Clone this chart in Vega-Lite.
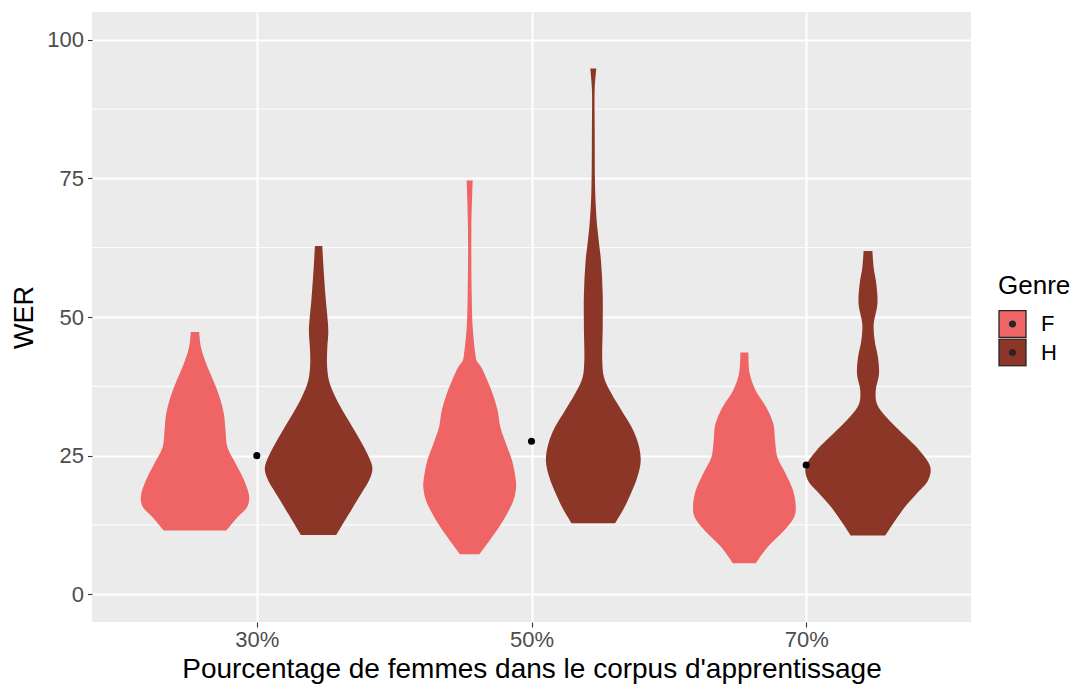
{
  "$schema": "https://vega.github.io/schema/vega-lite/v6.json",
  "width": 879,
  "height": 610,
  "autosize": {"type": "none"},
  "padding": {"left": 92, "top": 12, "right": 109, "bottom": 62},
  "background": "white",
  "config": {
    "font": "Liberation Sans",
    "view": {"fill": "#EBEBEB", "stroke": null},
    "area": {"interpolate": "catmull-rom", "orient": "horizontal"}
  },
  "datasets": {
    "grille": [{"wer": 12.5}, {"wer": 37.5}, {"wer": 62.5}, {"wer": 87.5}],
    "moyennes": [
      {"pct": "30%", "wer": 25.0},
      {"pct": "50%", "wer": 27.6},
      {"pct": "70%", "wer": 23.3}
    ],
    "violons": [
      {"pct": "30%", "genre": "F", "wer": 47.3, "densite": 0.0042},
      {"pct": "30%", "genre": "F", "wer": 44.5, "densite": 0.0060},
      {"pct": "30%", "genre": "F", "wer": 41.5, "densite": 0.0114},
      {"pct": "30%", "genre": "F", "wer": 38.5, "densite": 0.0184},
      {"pct": "30%", "genre": "F", "wer": 35.5, "densite": 0.0247},
      {"pct": "30%", "genre": "F", "wer": 32.5, "densite": 0.0289},
      {"pct": "30%", "genre": "F", "wer": 29.5, "densite": 0.0305},
      {"pct": "30%", "genre": "F", "wer": 26.5, "densite": 0.0324},
      {"pct": "30%", "genre": "F", "wer": 23.5, "densite": 0.0409},
      {"pct": "30%", "genre": "F", "wer": 20.5, "densite": 0.0492},
      {"pct": "30%", "genre": "F", "wer": 17.5, "densite": 0.0542},
      {"pct": "30%", "genre": "F", "wer": 15.7, "densite": 0.0520},
      {"pct": "30%", "genre": "F", "wer": 13.9, "densite": 0.0425},
      {"pct": "30%", "genre": "F", "wer": 11.5, "densite": 0.0312},

      {"pct": "30%", "genre": "H", "wer": 62.8, "densite": 0.0037},
      {"pct": "30%", "genre": "H", "wer": 59.5, "densite": 0.0047},
      {"pct": "30%", "genre": "H", "wer": 53.5, "densite": 0.0070},
      {"pct": "30%", "genre": "H", "wer": 47.5, "densite": 0.0097},
      {"pct": "30%", "genre": "H", "wer": 44.5, "densite": 0.0087},
      {"pct": "30%", "genre": "H", "wer": 41.5, "densite": 0.0084},
      {"pct": "30%", "genre": "H", "wer": 38.5, "densite": 0.0104},
      {"pct": "30%", "genre": "H", "wer": 35.5, "densite": 0.0170},
      {"pct": "30%", "genre": "H", "wer": 32.5, "densite": 0.0260},
      {"pct": "30%", "genre": "H", "wer": 29.5, "densite": 0.0360},
      {"pct": "30%", "genre": "H", "wer": 26.5, "densite": 0.0454},
      {"pct": "30%", "genre": "H", "wer": 23.5, "densite": 0.0530},
      {"pct": "30%", "genre": "H", "wer": 22.3, "densite": 0.0537},
      {"pct": "30%", "genre": "H", "wer": 20.5, "densite": 0.0504},
      {"pct": "30%", "genre": "H", "wer": 17.5, "densite": 0.0404},
      {"pct": "30%", "genre": "H", "wer": 14.5, "densite": 0.0304},
      {"pct": "30%", "genre": "H", "wer": 10.7, "densite": 0.0177},

      {"pct": "50%", "genre": "F", "wer": 74.6, "densite": 0.0030},
      {"pct": "50%", "genre": "F", "wer": 66.1, "densite": 0.0017},
      {"pct": "50%", "genre": "F", "wer": 54.1, "densite": 0.0020},
      {"pct": "50%", "genre": "F", "wer": 48.1, "densite": 0.0030},
      {"pct": "50%", "genre": "F", "wer": 43.3, "densite": 0.0057},
      {"pct": "50%", "genre": "F", "wer": 42.1, "densite": 0.0070},
      {"pct": "50%", "genre": "F", "wer": 41.0, "densite": 0.0114},
      {"pct": "50%", "genre": "F", "wer": 39.1, "densite": 0.0164},
      {"pct": "50%", "genre": "F", "wer": 36.1, "densite": 0.0230},
      {"pct": "50%", "genre": "F", "wer": 33.1, "densite": 0.0280},
      {"pct": "50%", "genre": "F", "wer": 30.1, "densite": 0.0307},
      {"pct": "50%", "genre": "F", "wer": 27.1, "densite": 0.0364},
      {"pct": "50%", "genre": "F", "wer": 24.1, "densite": 0.0424},
      {"pct": "50%", "genre": "F", "wer": 21.1, "densite": 0.0457},
      {"pct": "50%", "genre": "F", "wer": 19.3, "densite": 0.0464},
      {"pct": "50%", "genre": "F", "wer": 16.9, "densite": 0.0437},
      {"pct": "50%", "genre": "F", "wer": 13.9, "densite": 0.0354},
      {"pct": "50%", "genre": "F", "wer": 10.9, "densite": 0.0247},
      {"pct": "50%", "genre": "F", "wer": 7.2, "densite": 0.0097},

      {"pct": "50%", "genre": "H", "wer": 94.8, "densite": 0.0030},
      {"pct": "50%", "genre": "H", "wer": 91.2, "densite": 0.0014},
      {"pct": "50%", "genre": "H", "wer": 84.0, "densite": 0.0014},
      {"pct": "50%", "genre": "H", "wer": 72.1, "densite": 0.0020},
      {"pct": "50%", "genre": "H", "wer": 66.1, "densite": 0.0040},
      {"pct": "50%", "genre": "H", "wer": 60.1, "densite": 0.0077},
      {"pct": "50%", "genre": "H", "wer": 54.1, "densite": 0.0094},
      {"pct": "50%", "genre": "H", "wer": 48.1, "densite": 0.0094},
      {"pct": "50%", "genre": "H", "wer": 42.1, "densite": 0.0090},
      {"pct": "50%", "genre": "H", "wer": 39.1, "densite": 0.0107},
      {"pct": "50%", "genre": "H", "wer": 36.1, "densite": 0.0184},
      {"pct": "50%", "genre": "H", "wer": 33.1, "densite": 0.0284},
      {"pct": "50%", "genre": "H", "wer": 30.1, "densite": 0.0384},
      {"pct": "50%", "genre": "H", "wer": 27.1, "densite": 0.0450},
      {"pct": "50%", "genre": "H", "wer": 24.1, "densite": 0.0474},
      {"pct": "50%", "genre": "H", "wer": 21.1, "densite": 0.0440},
      {"pct": "50%", "genre": "H", "wer": 18.1, "densite": 0.0374},
      {"pct": "50%", "genre": "H", "wer": 15.1, "densite": 0.0294},
      {"pct": "50%", "genre": "H", "wer": 12.8, "densite": 0.0217},

      {"pct": "70%", "genre": "F", "wer": 43.6, "densite": 0.0040},
      {"pct": "70%", "genre": "F", "wer": 39.7, "densite": 0.0054},
      {"pct": "70%", "genre": "F", "wer": 36.7, "densite": 0.0114},
      {"pct": "70%", "genre": "F", "wer": 33.7, "densite": 0.0220},
      {"pct": "70%", "genre": "F", "wer": 30.7, "densite": 0.0290},
      {"pct": "70%", "genre": "F", "wer": 27.7, "densite": 0.0307},
      {"pct": "70%", "genre": "F", "wer": 24.7, "densite": 0.0330},
      {"pct": "70%", "genre": "F", "wer": 21.7, "densite": 0.0414},
      {"pct": "70%", "genre": "F", "wer": 18.7, "densite": 0.0487},
      {"pct": "70%", "genre": "F", "wer": 15.7, "densite": 0.0514},
      {"pct": "70%", "genre": "F", "wer": 13.9, "densite": 0.0497},
      {"pct": "70%", "genre": "F", "wer": 11.5, "densite": 0.0397},
      {"pct": "70%", "genre": "F", "wer": 8.5, "densite": 0.0230},
      {"pct": "70%", "genre": "F", "wer": 5.6, "densite": 0.0114},

      {"pct": "70%", "genre": "H", "wer": 61.9, "densite": 0.0044},
      {"pct": "70%", "genre": "H", "wer": 58.9, "densite": 0.0057},
      {"pct": "70%", "genre": "H", "wer": 55.9, "densite": 0.0084},
      {"pct": "70%", "genre": "H", "wer": 52.3, "densite": 0.0094},
      {"pct": "70%", "genre": "H", "wer": 48.7, "densite": 0.0057},
      {"pct": "70%", "genre": "H", "wer": 45.7, "densite": 0.0067},
      {"pct": "70%", "genre": "H", "wer": 42.7, "densite": 0.0100},
      {"pct": "70%", "genre": "H", "wer": 39.7, "densite": 0.0110},
      {"pct": "70%", "genre": "H", "wer": 36.7, "densite": 0.0077},
      {"pct": "70%", "genre": "H", "wer": 34.3, "densite": 0.0090},
      {"pct": "70%", "genre": "H", "wer": 31.9, "densite": 0.0184},
      {"pct": "70%", "genre": "H", "wer": 28.9, "densite": 0.0350},
      {"pct": "70%", "genre": "H", "wer": 25.9, "densite": 0.0517},
      {"pct": "70%", "genre": "H", "wer": 22.9, "densite": 0.0624},
      {"pct": "70%", "genre": "H", "wer": 20.5, "densite": 0.0600},
      {"pct": "70%", "genre": "H", "wer": 18.1, "densite": 0.0484},
      {"pct": "70%", "genre": "H", "wer": 15.7, "densite": 0.0367},
      {"pct": "70%", "genre": "H", "wer": 12.7, "densite": 0.0250},
      {"pct": "70%", "genre": "H", "wer": 10.6, "densite": 0.0174}
    ]
  },
  "resolve": {"scale": {"x": "independent"}, "axis": {"x": "independent"}},
  "layer": [
    {
      "data": {"name": "grille"},
      "mark": {"type": "rule", "color": "white", "strokeWidth": 1},
      "encoding": {
        "y": {"field": "wer", "type": "quantitative", "scale": {"domain": [-5, 105], "nice": false, "zero": false}}
      }
    },
    {
      "data": {"name": "violons"},
      "transform": [{"filter": "datum.pct == '30%' && datum.genre == 'F'"}],
      "mark": {"type": "area"},
      "encoding": {
        "y": {"field": "wer", "type": "quantitative"},
        "x": {"field": "densite", "type": "quantitative", "stack": "center", "impute": null, "axis": null, "scale": {"domain": [-0.024405, 0.415095], "nice": false, "zero": false}},
        "color": {"field": "genre", "type": "nominal", "scale": {"domain": ["F", "H"], "range": ["#EF6464", "#8B3627"]},
          "legend": {"title": "Genre", "orient": "none", "direction": "vertical", "legendX": 906, "legendY": 261, "padding": 0,
            "titleFontSize": 26, "titleFontWeight": "normal", "titleColor": "black", "titlePadding": 11,
            "labelFontSize": 22, "labelColor": "black", "labelOffset": 14, "rowPadding": 0.5, "clipHeight": 28,
            "symbolType": "M-1,-1H1V1H-1Z M0.22,0A0.22,0.22,0,1,1,-0.22,0A0.22,0.22,0,1,1,0.22,0Z M0.135,0A0.135,0.135,0,1,1,-0.135,0A0.135,0.135,0,1,1,0.135,0Z M0.05,0A0.05,0.05,0,1,1,-0.05,0A0.05,0.05,0,1,1,0.05,0Z",
            "symbolSize": 729, "symbolStrokeColor": "#262626", "symbolStrokeWidth": 1.3,
            "encode": {"symbols": {"update": {"stroke": {"value": "#262626"}, "strokeWidth": {"value": 1.3}}}}}}
      }
    },
    {
      "data": {"name": "violons"},
      "transform": [{"filter": "datum.pct == '30%' && datum.genre == 'H'"}],
      "mark": {"type": "area"},
      "encoding": {
        "y": {"field": "wer", "type": "quantitative"},
        "x": {"field": "densite", "type": "quantitative", "stack": "center", "impute": null, "axis": null, "scale": {"domain": [-0.086455, 0.353045], "nice": false, "zero": false}},
        "color": {"field": "genre", "type": "nominal"}
      }
    },
    {
      "data": {"name": "violons"},
      "transform": [{"filter": "datum.pct == '50%' && datum.genre == 'F'"}],
      "mark": {"type": "area"},
      "encoding": {
        "y": {"field": "wer", "type": "quantitative"},
        "x": {"field": "densite", "type": "quantitative", "stack": "center", "impute": null, "axis": null, "scale": {"domain": [-0.16565, 0.27385], "nice": false, "zero": false}},
        "color": {"field": "genre", "type": "nominal"}
      }
    },
    {
      "data": {"name": "violons"},
      "transform": [{"filter": "datum.pct == '50%' && datum.genre == 'H'"}],
      "mark": {"type": "area"},
      "encoding": {
        "y": {"field": "wer", "type": "quantitative"},
        "x": {"field": "densite", "type": "quantitative", "stack": "center", "impute": null, "axis": null, "scale": {"domain": [-0.22695, 0.21255], "nice": false, "zero": false}},
        "color": {"field": "genre", "type": "nominal"}
      }
    },
    {
      "data": {"name": "violons"},
      "transform": [{"filter": "datum.pct == '70%' && datum.genre == 'F'"}],
      "mark": {"type": "area"},
      "encoding": {
        "y": {"field": "wer", "type": "quantitative"},
        "x": {"field": "densite", "type": "quantitative", "stack": "center", "impute": null, "axis": null, "scale": {"domain": [-0.300495, 0.139005], "nice": false, "zero": false}},
        "color": {"field": "genre", "type": "nominal"}
      }
    },
    {
      "data": {"name": "violons"},
      "transform": [{"filter": "datum.pct == '70%' && datum.genre == 'H'"}],
      "mark": {"type": "area"},
      "encoding": {
        "y": {"field": "wer", "type": "quantitative"},
        "x": {"field": "densite", "type": "quantitative", "stack": "center", "impute": null, "axis": null, "scale": {"domain": [-0.356795, 0.082705], "nice": false, "zero": false}},
        "color": {"field": "genre", "type": "nominal"}
      }
    },
    {
      "data": {"name": "moyennes"},
      "mark": {"type": "circle", "color": "black", "size": 50, "opacity": 1},
      "encoding": {
        "x": {"field": "pct", "type": "nominal", "scale": {"type": "point", "padding": 0.6},
          "axis": {"title": "Pourcentage de femmes dans le corpus d'apprentissage", "titleFontSize": 28, "titleFontWeight": "normal", "titleColor": "black", "titlePadding": 5,
            "labelFontSize": 22, "labelColor": "#4D4D4D", "labelPadding": 2, "labelAngle": 0,
            "tickColor": "#333333", "tickSize": 5, "tickWidth": 1.1, "domain": false,
            "grid": true, "gridColor": "white", "gridWidth": 2}},
        "y": {"field": "wer", "type": "quantitative",
          "axis": {"title": "WER", "values": [0, 25, 50, 75, 100], "titleFontSize": 27, "titleFontWeight": "normal", "titleColor": "black", "titlePadding": 8,
            "labelFontSize": 22, "labelColor": "#4D4D4D", "labelPadding": 4,
            "tickColor": "#333333", "tickSize": 4.5, "tickWidth": 1.1, "domain": false,
            "grid": true, "gridColor": "white", "gridWidth": 2}}
      }
    }
  ]
}
